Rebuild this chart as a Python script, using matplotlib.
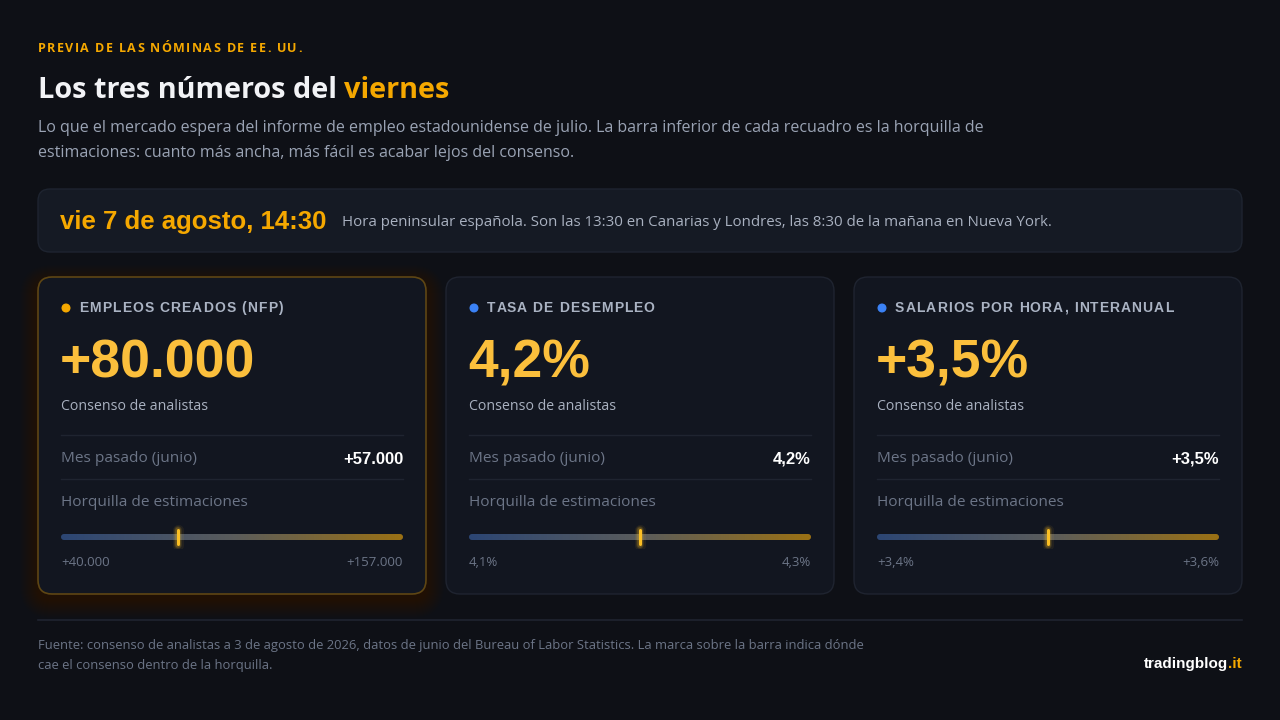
import matplotlib
matplotlib.use("Agg")
import matplotlib.pyplot as plt
import numpy as np
from matplotlib.patches import FancyBboxPatch, Circle
from matplotlib.colors import LinearSegmentedColormap

# --- data -------------------------------------------------------------
kicker = "PREVIA DE LAS NÓMINAS DE EE. UU."
title_a = "Los tres números del "
title_b = "viernes"
subtitle = ["Lo que el mercado espera del informe de empleo estadounidense de julio. La barra inferior de cada recuadro es la horquilla de",
            "estimaciones: cuanto más ancha, más fácil es acabar lejos del consenso."]
date_txt = "vie 7 de agosto, 14:30"
date_note = "Hora peninsular española. Son las 13:30 en Canarias y Londres, las 8:30 de la mañana en Nueva York."

card_titles = ["EMPLEOS CREADOS (NFP)", "TASA DE DESEMPLEO", "SALARIOS POR HORA, INTERANUAL"]
consensus = [80000, 4.2, 3.5]
previous = [57000, 4.2, 3.5]
low = [40000, 4.1, 3.4]
high = [157000, 4.3, 3.6]
signed = [True, False, True]
is_pct = [False, True, True]
dot_colors = ["#f5a800", "#3b82f6", "#3b82f6"]

footer = ["Fuente: consenso de analistas a 3 de agosto de 2026, datos de junio del Bureau of Labor Statistics. La marca sobre la barra indica dónde",
          "cae el consenso dentro de la horquilla."]

BG = "#0e1016"
CARD = "#121620"
GOLD = "#f5a800"
NUM = "#fbbf3c"
MUTED = "#6c7587"
SOFT = "#a9b1c0"
LINE = "#1f2430"
SANS = ["Open Sans", "DejaVu Sans"]
ARIAL = ["Liberation Sans", "DejaVu Sans"]


def fmt(v, sign, pct):
    if pct:
        s = f"{v:.1f}".replace(".", ",") + "%"
    else:
        s = f"{v:,.0f}".replace(",", ".")
    return ("+" + s) if sign else s


fig = plt.figure(figsize=(12.8, 7.2), dpi=100, facecolor=BG)
ax = fig.add_axes([0, 0, 1, 1])
ax.set_xlim(0, 1280)
ax.set_ylim(720, 0)
ax.axis("off")
ax.set_facecolor(BG)
renderer = fig.canvas.get_renderer()


def text_w(s, **kw):
    t = ax.text(0, 0, s, **kw)
    w = t.get_window_extent(renderer).width
    t.remove()
    return w


def spaced(x, y, s, spacing, **kw):
    ref = text_w("x", **kw)
    for i, ch in enumerate(s):
        off = text_w(s[:i] + "x", **kw) - ref if i else 0
        ax.text(x + off + i * spacing, y, ch, va="center", ha="left", **kw)


def rbox(x0, y0, x1, y1, r, **kw):
    p = FancyBboxPatch((x0, y0), x1 - x0, y1 - y0,
                       boxstyle=f"round,pad=0,rounding_size={r}", **kw)
    ax.add_patch(p)
    return p


# header
spaced(38, 48, kicker, 1.4, fontsize=9, fontweight="bold", color=GOLD, family=SANS)
tkw = dict(fontsize=20.8, fontweight="bold", family=SANS)
ax.text(38, 90, title_a, color="#f2f3f6", va="center", ha="left", **tkw)
ax.text(38 + text_w(title_a + "x", **tkw) - text_w("x", **tkw), 90, title_b,
        color=GOLD, va="center", ha="left", **tkw)
for i, line in enumerate(subtitle):
    ax.text(38, 128 + i * 25, line, fontsize=11.55, color="#9aa3b4", family=SANS,
            va="center", ha="left")

# date box
rbox(38, 189, 1242, 252, 12, facecolor="#151a24", edgecolor="#1e2430", lw=1)
ax.text(60, 222, date_txt, fontsize=18.5, fontweight="bold", color=GOLD, family=ARIAL,
        va="center", ha="left")
ax.text(342, 222, date_note, fontsize=10.85, color=SOFT, family=SANS, va="center", ha="left")

# cards
card_x = [38, 446, 854]
cw = 388
cy0, cy1 = 277, 594
cmap = LinearSegmentedColormap.from_list("rng", ["#2c4674", "#5a5c5c", "#9b7114"])

for k in range(3):
    x0 = card_x[k]
    if k == 0:
        for g in range(18, 0, -1):
            rbox(x0 - g, cy0 - g + 6, x0 + cw + g, cy1 + g + 6, 14 + g,
                 facecolor="#c98400", edgecolor="none", alpha=0.008)
        rbox(x0, cy0, x0 + cw, cy1, 14, facecolor=CARD, edgecolor="#5e4614", lw=1.2)
    else:
        rbox(x0, cy0, x0 + cw, cy1, 14, facecolor=CARD, edgecolor="#1f2430", lw=1)

    lx = x0 + 23
    rx = x0 + cw - 23
    ax.add_patch(Circle((x0 + 28, 308), 3.8, color=dot_colors[k]))
    spaced(x0 + 41, 308, card_titles[k], 1.1, fontsize=10, fontweight="bold",
           color="#aab3c3", family=ARIAL)
    ax.text(lx - 1, 364, fmt(consensus[k], signed[k], is_pct[k]), fontsize=38.5,
            fontweight="bold", color=NUM, family=ARIAL, va="center", ha="left")
    ax.text(lx, 406, "Consenso de analistas", fontsize=10.2, color=SOFT, family=SANS,
            va="center", ha="left")
    ax.plot([lx, rx], [435, 435], color=LINE, lw=1)
    ax.text(lx, 459, "Mes pasado (junio)", fontsize=11.1, color=MUTED, family=SANS,
            va="center", ha="left")
    ax.text(rx, 459, fmt(previous[k], signed[k] or k == 0, is_pct[k]), fontsize=12,
            fontweight="bold", color="#ffffff", family=ARIAL, va="center", ha="right")
    ax.plot([lx, rx], [479, 479], color=LINE, lw=1)
    ax.text(lx, 503, "Horquilla de estimaciones", fontsize=11.1, color=MUTED, family=SANS,
            va="center", ha="left")
    ax.text(lx, 562, fmt(low[k], signed[k], is_pct[k]), fontsize=9.5, color=MUTED,
            family=SANS, va="center", ha="left")
    ax.text(rx, 562, fmt(high[k], signed[k], is_pct[k]), fontsize=9.5, color=MUTED,
            family=SANS, va="center", ha="right")

    # range bar on its own scale
    bax = fig.add_axes([lx / 1280, 1 - 549 / 720, (rx - lx) / 1280, 24 / 720])
    bax.set_xlim(low[k], high[k])
    bax.set_ylim(-12, 12)
    bax.axis("off")
    bax.patch.set_alpha(0)
    grad = np.linspace(0, 1, 256).reshape(1, -1)
    im = bax.imshow(grad, cmap=cmap, extent=[low[k], high[k], -3, 3], aspect="auto",
                    interpolation="bilinear")
    clip = FancyBboxPatch((lx, 534), rx - lx, 6, boxstyle="round,pad=0,rounding_size=3",
                          transform=ax.transData, facecolor="none")
    im.set_clip_path(clip)
    c = consensus[k]
    for lw_, a in [(8, 0.07), (5.5, 0.12), (4, 0.2)]:
        bax.plot([c, c], [-7.5, 7.5], color="#fbbf24", lw=lw_, alpha=a,
                 solid_capstyle="round")
    bax.plot([c, c], [-7, 7], color="#fbbf24", lw=2.2, solid_capstyle="round")

# footer
ax.plot([38, 1242], [620, 620], color=LINE, lw=1.2)
for i, line in enumerate(footer):
    ax.text(38, 646 + i * 19, line, fontsize=9.4, color=MUTED, family=SANS,
            va="center", ha="left")
bkw = dict(fontsize=11, fontweight="bold", family=ARIAL, va="center", ha="right")
tb = ax.text(1242, 664, ".it", color=GOLD, **bkw)
wit = tb.get_window_extent(renderer).width
ax.text(1242 - wit, 664, "tradingblog", color="#ffffff", **bkw)

fig.savefig("out.png", dpi=100, facecolor=BG)
